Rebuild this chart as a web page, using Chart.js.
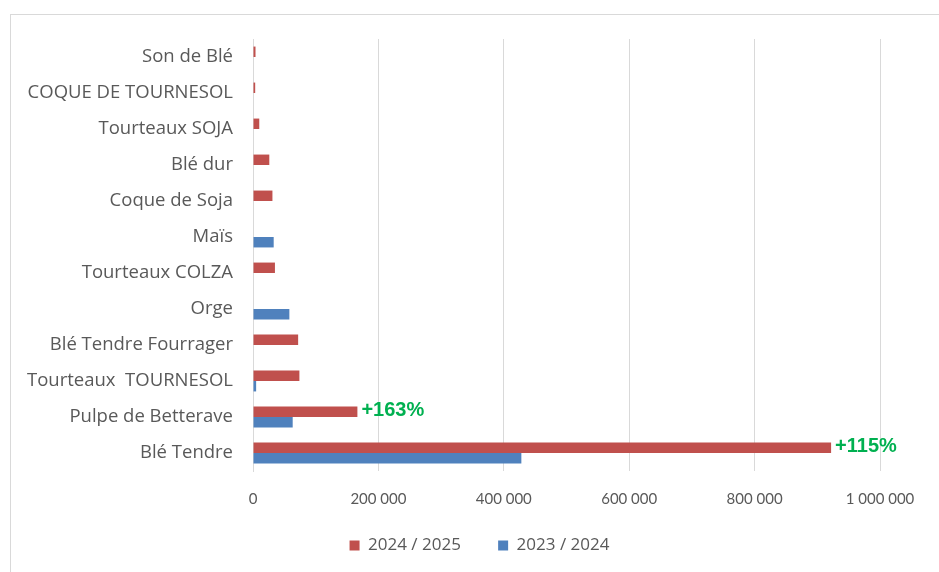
<!DOCTYPE html>
<html>
<head>
<meta charset="utf-8">
<script src="https://cdn.jsdelivr.net/npm/chart.js@4"></script>
<style>
    html, body { margin: 0; padding: 0; background: #fff; }
    #wrap { position: relative; width: 939px; height: 572px; overflow: hidden; }
    #frame { position: absolute; left: 10px; top: 14px; width: 960px; height: 600px; border: 1px solid #d9d9d9; box-sizing: border-box; }
    canvas { position: absolute; left: 0; top: 0; }
</style>
</head>
<body>
<div id="wrap">
    <div id="frame"></div>
    <canvas id="chart" width="939" height="572"></canvas>
</div>
<script>
const categories = [
    'Son de Blé', 'COQUE DE TOURNESOL', 'Tourteaux SOJA', 'Blé dur', 'Coque de Soja', 'Maïs',
    'Tourteaux COLZA', 'Orge', 'Blé Tendre Fourrager', 'Tourteaux  TOURNESOL', 'Pulpe de Betterave', 'Blé Tendre'
];
const season2425 = [4000, 3500, 10000, 26000, 31000, null, 35000, null, 72000, 74000, 166500, 922000];
const season2324 = [null, null, null, null, null, 33000, null, 58000, null, 5000, 63300, 428000];
const growthLabels = [null, null, null, null, null, null, null, null, null, null, '+163%', '+115%'];
const seriesNames = ['2024 / 2025', '2023 / 2024'];

const FONT = '"Open Sans", Lato, sans-serif';
const TICK_FONT = 'Lato, "Open Sans", sans-serif';

function spaced(v) {
    return String(v).replace(/\B(?=(\d{3})+(?!\d))/g, ' ');
}

// green growth labels next to the 2024/2025 bars
const growthPlugin = {
    id: 'growth',
    afterDatasetsDraw(chart) {
        const ctx = chart.ctx;
        const meta = chart.getDatasetMeta(0);
        ctx.save();
        ctx.fillStyle = '#00B050';
        ctx.font = 'bold 20px "Liberation Sans", Arial, sans-serif';
        ctx.textBaseline = 'middle';
        growthLabels.forEach((txt, i) => {
            if (!txt) return;
            const bar = meta.data[i];
            ctx.fillText(txt, bar.x + 4, bar.y - 1);
        });
        ctx.restore();
    }
};

const ctx = document.getElementById('chart').getContext('2d');
new Chart(ctx, {
    type: 'bar',
    data: {
        labels: categories,
        datasets: [
            { label: seriesNames[0], data: season2425, backgroundColor: '#C0504D' },
            { label: seriesNames[1], data: season2324, backgroundColor: '#4F81BD' }
        ]
    },
    options: {
        indexAxis: 'y',
        responsive: false,
        animation: false,
        categoryPercentage: 0.58,
        barPercentage: 1.0,
        layout: { padding: { top: 39, right: 0, left: 20, bottom: 8 } },
        scales: {
            x: {
                min: 0,
                max: 1000000,
                afterFit: scale => {
                    scale.paddingRight = 59;
                    scale.height = 42;
                },
                ticks: {
                    stepSize: 200000,
                    padding: 19,
                    color: '#595959',
                    font: { family: TICK_FONT, size: 15 },
                    callback: v => spaced(v)
                },
                grid: { color: '#d9d9d9', drawTicks: false },
                border: { display: false }
            },
            y: {
                afterFit: scale => { scale.width = 253 - 20; },
                ticks: {
                    padding: 20,
                    color: '#595959',
                    font: { family: FONT, size: 18.5 }
                },
                grid: { display: false, drawTicks: false },
                border: { color: '#d9d9d9' }
            }
        },
        plugins: {
            legend: {
                position: 'bottom',
                labels: {
                    boxWidth: 10,
                    boxHeight: 10,
                    padding: 24,
                    color: '#595959',
                    font: { family: FONT, size: 17 },
                    // a little extra room after the first entry, like the original legend
                    generateLabels: chart => {
                        const items = Chart.defaults.plugins.legend.labels.generateLabels(chart);
                        if (items.length) items[0].text += '\u00a0\u00a0\u00a0';
                        return items;
                    }
                }
            },
            tooltip: { enabled: false }
        }
    },
    plugins: [growthPlugin]
});
</script>
</body>
</html>
